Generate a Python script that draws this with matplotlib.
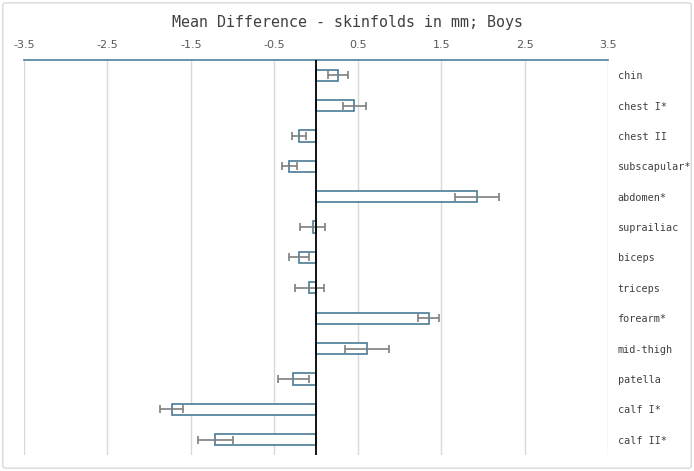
import matplotlib.pyplot as plt
import numpy as np
from matplotlib.patches import FancyBboxPatch

plt.rcParams['axes.unicode_minus'] = False

# data
sites = ['chin', 'chest I*', 'chest II', 'subscapular*', 'abdomen*', 'suprailiac',
         'biceps', 'triceps', 'forearm*', 'mid-thigh', 'patella', 'calf I*', 'calf II*']
mean_diff = [0.26, 0.46, -0.20, -0.32, 1.93, -0.04, -0.20, -0.08, 1.35, 0.61, -0.27, -1.73, -1.21]
err = [0.12, 0.14, 0.085, 0.09, 0.26, 0.15, 0.12, 0.17, 0.13, 0.26, 0.18, 0.14, 0.21]
xticks = [-3.5, -2.5, -1.5, -0.5, 0.5, 1.5, 2.5, 3.5]

fig = plt.figure(figsize=(6.94, 4.71), dpi=100)
ax = fig.add_axes([0.0346, 0.034, 0.8415, 0.8386])

y = np.arange(len(sites))
ax.barh(y, mean_diff, height=0.37, color='white', edgecolor='#4a7a96', linewidth=1.2, zorder=3)
ax.errorbar(mean_diff, y, xerr=err, fmt='none', ecolor='#7f7f7f', elinewidth=1.2,
            capsize=3, capthick=1.2, zorder=4)

ax.set_xlim(-3.5, 3.5)
ax.set_ylim(len(sites) - 0.5, -0.5)
ax.axvline(0, color='black', lw=1.3, zorder=5)

ax.set_xticks(xticks)
ax.set_xticklabels([str(t) for t in xticks])
ax.xaxis.tick_top()
ax.tick_params(axis='x', length=0, pad=7, labelsize=8, labelcolor='#595959')
ax.grid(axis='x', color='#d9d9d9', lw=1, zorder=0)

ax.yaxis.tick_right()
ax.set_yticks(y)
ax.set_yticklabels(sites, family='DejaVu Sans Mono', fontsize=7.3, color='#404040')
ax.tick_params(axis='y', length=0, pad=7)

for s in ['left', 'right', 'bottom']:
    ax.spines[s].set_visible(False)
ax.spines['top'].set_color('#5b8ba8')
ax.spines['top'].set_linewidth(1.3)

fig.text(0.5, 0.953, 'Mean Difference - skinfolds in mm; Boys', ha='center', va='center',
         family='DejaVu Sans Mono', fontsize=10.8, color='#404040')

border = FancyBboxPatch((0.004, 0.006), 0.992, 0.988, boxstyle='round,pad=0,rounding_size=0.005',
                        transform=fig.transFigure, fill=False, edgecolor='#d9d9d9', lw=1)
fig.patches.append(border)

fig.savefig('out.png', dpi=100, facecolor='white')
